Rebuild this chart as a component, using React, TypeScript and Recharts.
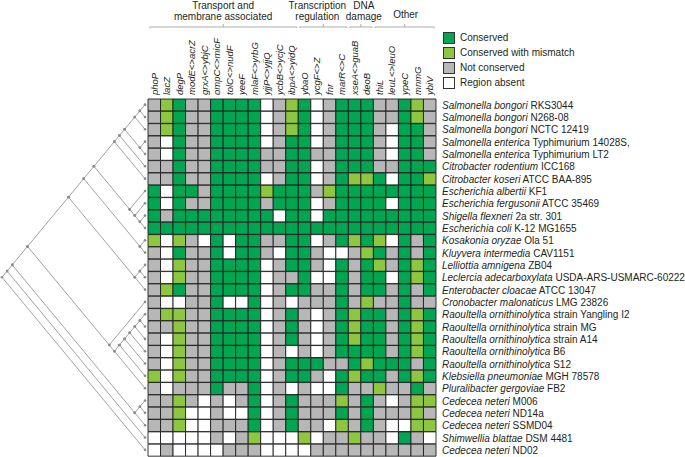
import { Bar, BarChart, Cell, Legend, Scatter, ScatterChart, XAxis, YAxis } from "recharts";

const genes = [
  "phoP", "lacZ", "degP", "modE<>acrZ", "grxA<>ybjC", "ompC<>micF", "tolC<>nudF", "yeeF",
  "mlaF<>yrbG", "yjjP<>yjjQ", "ycbB<>ycjC", "ibpA<>yidQ", "ybaO", "ycgF<>Z", "fnr", "marR<>C",
  "xseA<>guaB", "deoB", "thiL", "leuL<>leuO", "ypeC", "mnmG", "ybiV",
];

const groupLabels = [["Transport and", "membrane associated"], ["Transcription", "regulation"], ["DNA", "damage"], ["Other"]];
const groupStart = [0, 12, 16, 18];
const groupEnd = [12, 16, 18, 23];

const species = [
  "Salmonella bongori", "Salmonella bongori", "Salmonella bongori", "Salmonella enterica", "Salmonella enterica",
  "Citrobacter rodentium", "Citrobacter koseri", "Escherichia albertii", "Escherichia fergusonii", "Shigella flexneri",
  "Escherichia coli", "Kosakonia oryzae", "Kluyvera intermedia", "Lelliottia amnigena", "Leclercia adecarboxylata",
  "Enterobacter cloacae", "Cronobacter malonaticus", "Raoultella ornithinolytica", "Raoultella ornithinolytica",
  "Raoultella ornithinolytica", "Raoultella ornithinolytica", "Raoultella ornithinolytica", "Klebsiella pneumoniae",
  "Pluralibacter gergoviae", "Cedecea neteri", "Cedecea neteri", "Cedecea neteri", "Shimwellia blattae", "Cedecea neteri",
];
const strains = [
  "RKS3044", "N268-08", "NCTC 12419", "Typhimurium 14028S,", "Typhimurium LT2", "ICC168", "ATCC BAA-895", "KF1",
  "ATCC 35469", "2a str. 301", "K-12 MG1655", "Ola 51", "CAV1151", "ZB04", "USDA-ARS-USMARC-60222", "ATCC 13047",
  "LMG 23826", "strain Yangling I2", "strain MG", "strain A14", "B6", "S12", "MGH 78578", "FB2", "M006", "ND14a",
  "SSMD04", "DSM 4481", "ND02",
];

// C conserved, M conserved with mismatch, N not conserved, A region absent
const calls = [
  "NMCNNCCCCANMCANCCCNNCMN",
  "NMCNNCCCCANMCANCCCNNCMN",
  "NMCNNCCCCANMCANCCCNACCN",
  "NACNNCCCCANCCANCCCNACCN",
  "NACNNCCCCNNCCNNCCCNACCN",
  "NNCNNCCCCNNCCANCCCNNCCC",
  "NNCNNCCCCANCCANCMMCACCM",
  "CACCNCCCCMCCCNMCCCCCCCC",
  "CACNNCCCCNCCCANCCCCACCC",
  "CNCCCCCCCCACCACCCCCCCCC",
  "CCCCCCCCCCCCCCCCCCCCCCC",
  "MAMNACACCNNCCANCMCMACNC",
  "NACNNCACCNACCNAANMCNCNC",
  "NAMNNCCCCANCCNACNCMNCMC",
  "NAMNNCCCCANNCAACNCCACMC",
  "NMCNNCCCCANCCNNCNCCNCNC",
  "NAANNCAACANANNNCNMNNCNN",
  "NMMNNCCCCANCNANCMCCNCMC",
  "NNMNNCCCCANCNANCMCCNCMC",
  "NAMNNCCCCANCNANCMCCNCMC",
  "NAMNNCCCCANANANCCCCNCMC",
  "NAMNNCCCCANCCCNNCMCCCNC",
  "MAMNNCCCCANCCNACMCCNCMC",
  "NANNNCNNCANANAACNNMNNCN",
  "NNMNANANCANCNNNMNCNANMM",
  "NNMAANAACANCNNNCNCNNNMN",
  "NNMAANNNCANCNNAMNCNAAMM",
  "AAAAANANMAAAMANNMNNACNA",
  "ANAAAANNNAAAANNNNNNNNNN",
];

const legendItems = [
  { code: "C", label: "Conserved" },
  { code: "M", label: "Conserved with mismatch" },
  { code: "N", label: "Not conserved" },
  { code: "A", label: "Region absent" },
];

type Tree = number | Tree[];
// leaves are row indices
const salmonella: Tree = [[[0, 1], 2], [3, 4]];
const ecoliGroup: Tree = [7, [8, [9, 10]]];
const upper: Tree = [[[[[salmonella, 5], 6], ecoliGroup], [11, 12]], [[13, 14], 15]];
const raoultella: Tree = [[[[[[17, 18], 19], 20], 21], 22], 23];
const enteric: Tree = [upper, [16, raoultella]];
const cedecea: Tree = [[24, 25], 26];
const tree: Tree = [[[enteric, cedecea], 27], 28];

const COLORS: Record<string, string> = { C: "#00a651", M: "#8dc63f", N: "#b7b7b7", A: "#ffffff" };
const FONT = '"Liberation Sans", Arial, Helvetica, sans-serif';
const INK = "#231f20";
const W = 685;
const H = 457;
const GRID_LEFT = 148;
const GRID_RIGHT = 436;
const GRID_TOP = 98.5;
const GRID_BOTTOM = 456;
const GENE_AXIS_H = 71;
const COL_W = (GRID_RIGHT - GRID_LEFT) / genes.length;
// small horizontal nudges of the group titles so neighbours do not collide
const groupLabelDx = [0, -6, 3, 1];

const rows = species.map((_, i) => {
  const r: Record<string, string | number> = { name: String(i) };
  genes.forEach((_, j) => (r["g" + j] = 1));
  return r;
});

const groupData = groupStart.map((s, k) => ({ x: (s + groupEnd[k]) / 2, y: 0, k }));

interface Node { x: number; y: number; lo: number; hi: number }
const edges: { node: Node; kids: Node[] }[] = [];
function layout(t: Tree): Node {
  if (typeof t === "number") return { x: 0, y: t, lo: t, hi: t };
  const kids = t.map(layout);
  const lo = Math.min(...kids.map((k) => k.lo));
  const hi = Math.max(...kids.map((k) => k.hi));
  const node = { x: -(hi - lo) / 2, y: (lo + hi) / 2, lo, hi };
  edges.push({ node, kids });
  return node;
}
const root = layout(tree);

function GeneTick(props: any) {
  const { x, y, payload } = props;
  const label = genes[Math.round(payload.value - 0.5)];
  const yy = y - 4;
  return (
    <text x={x} y={yy} transform={`rotate(-90 ${x} ${yy})`} dy="0.35em" textAnchor="start"
      fontSize={9.5} fontStyle="italic" fill={INK} fontFamily={FONT}>
      {label}
    </text>
  );
}

// bracket + title for a gene group, centred on the group's midpoint
function GroupShape(props: any) {
  const { cx, cy, payload } = props;
  const k = payload.k;
  const half = ((groupEnd[k] - groupStart[k]) * COL_W) / 2;
  const by = cy - 0.5;
  const lines = groupLabels[k];
  const tx = cx + groupLabelDx[k];
  return (
    <g>
      <path d={`M${cx - half + 1.5},${by + 3}V${by}H${cx + half - 1.5}V${by + 3}M${cx},${by}V${by - 3}`}
        stroke="#9a9a9a" strokeWidth={0.8} fill="none" />
      {lines.map((t, i) => (
        <text key={i} x={tx} y={lines.length === 1 ? by - 9 : by - 7 - (lines.length - 1 - i) * 11.5}
          textAnchor="middle" fontSize={10} fill={INK} fontFamily={FONT}>
          {t}
        </text>
      ))}
    </g>
  );
}

function SpeciesTick(props: any) {
  const { x, y, payload } = props;
  const i = Number(payload.value);
  return (
    <text x={x + 6} y={y} dy="0.35em" fontSize={10} fill={INK} fontFamily={FONT}>
      <tspan fontStyle="italic">{species[i]}</tspan>
      <tspan>{" " + strains[i]}</tspan>
    </text>
  );
}

function LegendBox() {
  return (
    <div style={{ fontFamily: FONT, fontSize: 10, color: INK }}>
      {legendItems.map((it) => (
        <div key={it.code} style={{ display: "flex", alignItems: "center", height: 15 }}>
          <span style={{ boxSizing: "border-box", width: 12, height: 12, background: COLORS[it.code],
            border: "1px solid #333", marginRight: 5 }} />
          {it.label}
        </div>
      ))}
    </div>
  );
}

export default function App() {
  return (
    <div style={{ position: "absolute", left: 0, top: 0, width: W, height: H, background: "#fff" }}>
      <div style={{ position: "absolute", left: 0, top: 0 }}>
        <ScatterChart width={W} height={GRID_TOP - GENE_AXIS_H}
          margin={{ top: 0, bottom: 0, left: GRID_LEFT, right: W - GRID_RIGHT }}>
          <XAxis type="number" dataKey="x" domain={[0, genes.length]} hide />
          <YAxis type="number" dataKey="y" domain={[0, 1]} hide />
          <Scatter data={groupData} isAnimationActive={false} shape={GroupShape} />
        </ScatterChart>
      </div>
      <div style={{ position: "absolute", left: 0, top: 0 }}>
        <ScatterChart width={GRID_LEFT} height={H} margin={{ top: GRID_TOP, bottom: H - GRID_BOTTOM, left: 2, right: 3 }}>
          <XAxis type="number" dataKey="x" domain={[root.x, 0]} hide />
          <YAxis type="number" dataKey="y" domain={[-0.5, species.length - 0.5]} reversed hide />
          {edges.map((e, k) => (
            <Scatter key={k} data={[e.kids[0], e.node, e.kids[1]]} isAnimationActive={false}
              line={{ stroke: "#8c8c8c", strokeWidth: 0.8 }}
              shape={(p: any) => <circle cx={p.cx} cy={p.cy} r={1.3} fill="#8c8c8c" />} />
          ))}
        </ScatterChart>
      </div>
      <div style={{ position: "absolute", left: 0, top: GRID_TOP - GENE_AXIS_H }}>
        <BarChart width={W} height={H - GRID_TOP + GENE_AXIS_H} layout="vertical" data={rows} barCategoryGap={0}
          margin={{ top: 0, right: 0, bottom: H - GRID_BOTTOM, left: GRID_LEFT }}>
          <XAxis type="number" orientation="top" domain={[0, genes.length]} ticks={genes.map((_, j) => j + 0.5)}
            height={GENE_AXIS_H} axisLine={false} tickLine={false} tickSize={0} tickMargin={0} interval={0}
            tick={GeneTick} />
          <YAxis type="category" dataKey="name" orientation="right" width={W - GRID_RIGHT} axisLine={false}
            tickLine={false} tickSize={0} tickMargin={0} interval={0} tick={SpeciesTick} />
          <Legend layout="vertical" align="center" verticalAlign="middle" content={() => <LegendBox />}
            wrapperStyle={{ position: "absolute", left: 443, top: 30 - (GRID_TOP - GENE_AXIS_H), width: 235 }} />
          {genes.map((g, j) => (
            <Bar key={g} dataKey={"g" + j} stackId="s" isAnimationActive={false} stroke="#1e1e1e" strokeWidth={0.9}>
              {calls.map((row, i) => (
                <Cell key={i} fill={COLORS[row[j]]} />
              ))}
            </Bar>
          ))}
        </BarChart>
      </div>
    </div>
  );
}
